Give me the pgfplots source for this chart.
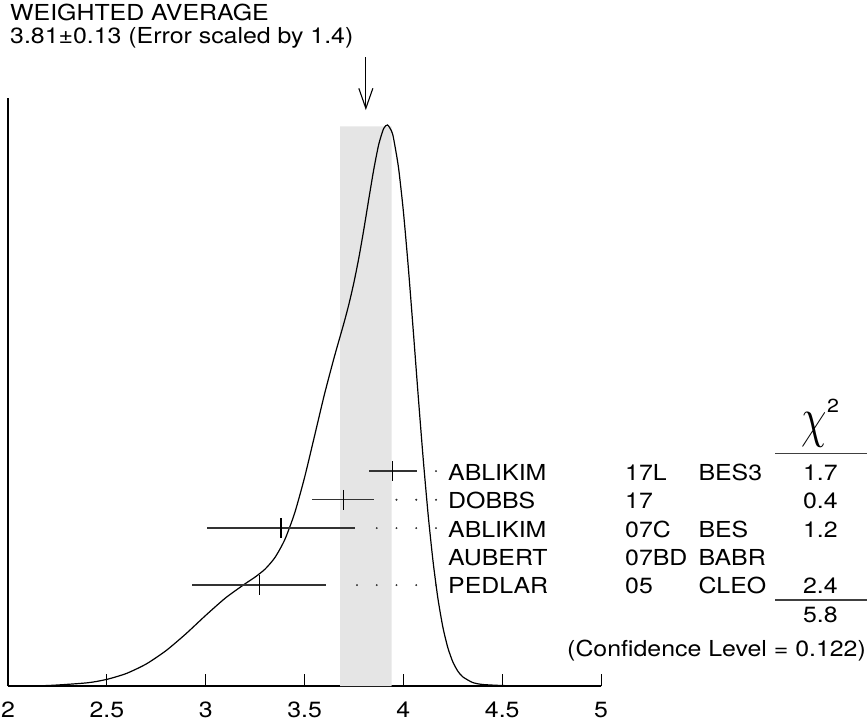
\documentclass[border=0pt]{standalone}
\usepackage{graphicx}
\usepackage{fontspec}
\setmainfont{TeX Gyre Heros}[FakeStretch=1.13]
\usepackage{pgfplots}
\pgfplotsset{compat=1.18}
\usetikzlibrary{arrows.meta}

\begin{document}
\fontsize{22.1}{26}\selectfont
\begin{tikzpicture}[font=\fontsize{22.1}{26}\selectfont]
\begin{axis}[
  scale only axis, width=593bp, height=588bp,
  xmin=2, xmax=5, ymin=0, ymax=1,
  axis x line=bottom, axis y line=left,
  axis line style={line width=1.3bp, -},
  ytick=\empty,
  xtick={2,2.5,3,3.5,4,4.5,5},
  tick align=inside, major tick length=12bp,
  tick style={line width=1.1bp, black},
  xticklabel style={inner sep=0pt, anchor=north, yshift=-16bp},
  /pgf/number format/assume math mode=true,
  clip=false,
]
% weighted average band 3.81 +- 0.13
\addplot[fill=black!10, draw=none] coordinates {(3.68,0) (3.68,0.952) (3.94,0.952) (3.94,0)} \closedcycle;

% ideogram
\addplot[black, line width=1.2bp, smooth, tension=0.4] coordinates {
(2.0,0.0001) (2.2,0.0010) (2.4,0.0056) (2.5,0.0115) (2.6,0.0217) (2.7,0.0378)
(2.8,0.0605) (2.9,0.0890) (3.0,0.1203) (3.1,0.1499) (3.2,0.1742) (3.25,0.1855)
(3.3,0.1989) (3.35,0.2185) (3.4,0.2490) (3.45,0.2943) (3.5,0.3547) (3.55,0.4247)
(3.6,0.4953) (3.65,0.5591) (3.7,0.6184) (3.725,0.6504) (3.75,0.6869) (3.775,0.7290)
(3.8,0.7770) (3.825,0.8284) (3.85,0.8784) (3.875,0.9208) (3.9,0.9481) (3.92,0.9542)
(3.94,0.9437) (3.95,0.9317) (3.975,0.8822) (4.0,0.8068) (4.025,0.7113) (4.05,0.6038)
(4.075,0.4930) (4.1,0.3869) (4.125,0.2919) (4.15,0.2119) (4.175,0.1480) (4.2,0.0997)
(4.225,0.0650) (4.25,0.0412) (4.275,0.0256) (4.3,0.0158) (4.35,0.0062) (4.4,0.0028)
(4.5,0.0010) (4.6,0.0004) (4.8,0.0001) (5.0,0.0000)
};

% measurements
\addplot[only marks, mark=|, mark size=10bp, mark options={line width=1.1bp, black},
  error bars/.cd, x dir=both, x explicit, error mark=none,
  error bar style={line width=1.3bp, black!80}] coordinates {
(3.947,0.3656) +- (0.120,0)
(3.695,0.3169) +- (0.155,0)
(3.381,0.2687) +- (0.372,0)
(3.270,0.1718) +- (0.337,0)
};

% dotted leaders
\addplot[only marks, mark=*, mark size=0.75bp, black!80] coordinates {
(4.165,0.3656)
(3.965,0.3169) (4.065,0.3169) (4.165,0.3169)
(3.865,0.2687) (3.965,0.2687) (4.065,0.2687) (4.165,0.2687)
(3.765,0.1718) (3.865,0.1718) (3.965,0.1718) (4.065,0.1718) (4.165,0.1718)
};

% arrow at the mean
\draw[line width=1.1bp, -{Straight Barb[length=20bp,width=14bp,line width=1.1bp]}]
  (axis cs:3.81,1.0697) -- (axis cs:3.81,0.9796);

\node[anchor=base west, inner sep=0] at (axis cs:2.01,1.1315) {WEIGHTED AVERAGE};
\node[anchor=base west, inner sep=0] at (axis cs:2.01,1.0930) {3.81±0.13 (Error scaled by 1.4)};

% table
\node[anchor=base west, inner sep=0] at (axis cs:4.2256,0.3503) {ABLIKIM};
\node[anchor=base west, inner sep=0] at (axis cs:5.121,0.3503) {17L};
\node[anchor=base west, inner sep=0] at (axis cs:5.4917,0.3503) {BES3};
\node[anchor=base east, inner sep=0] at (axis cs:6.198,0.3503) {1.7};

\node[anchor=base west, inner sep=0] at (axis cs:4.2256,0.3023) {DOBBS};
\node[anchor=base west, inner sep=0] at (axis cs:5.121,0.3023) {17};
\node[anchor=base east, inner sep=0] at (axis cs:6.198,0.3023) {0.4};

\node[anchor=base west, inner sep=0] at (axis cs:4.2256,0.2534) {ABLIKIM};
\node[anchor=base west, inner sep=0] at (axis cs:5.121,0.2534) {07C};
\node[anchor=base west, inner sep=0] at (axis cs:5.4917,0.2534) {BES};
\node[anchor=base east, inner sep=0] at (axis cs:6.198,0.2534) {1.2};

\node[anchor=base west, inner sep=0] at (axis cs:4.2256,0.2049) {AUBERT};
\node[anchor=base west, inner sep=0] at (axis cs:5.121,0.2049) {07BD};
\node[anchor=base west, inner sep=0] at (axis cs:5.4917,0.2049) {BABR};

\node[anchor=base west, inner sep=0] at (axis cs:4.2256,0.1573) {PEDLAR};
\node[anchor=base west, inner sep=0] at (axis cs:5.121,0.1573) {05};
\node[anchor=base west, inner sep=0] at (axis cs:5.4917,0.1573) {CLEO};
\node[anchor=base east, inner sep=0] at (axis cs:6.198,0.1573) {2.4};

\node[anchor=base east, inner sep=0] at (axis cs:6.205,0.425)
  {\scalebox{2.0}[2.7]{$\chi$}\raisebox{24bp}{\fontsize{19}{19}\selectfont 2}};
\draw[line width=1.3bp, black!75] (axis cs:5.88,0.3958) -- (axis cs:6.345,0.3958);
\draw[line width=1.3bp, black!75] (axis cs:5.88,0.1463) -- (axis cs:6.345,0.1463);
\node[anchor=base east, inner sep=0] at (axis cs:6.198,0.1083) {5.8};
\node[anchor=base east, inner sep=0] at (axis cs:6.340,0.051) {(Confidence Level = 0.122)};

\coordinate (bbl) at (axis cs:1.9595,-0.0663);
\coordinate (btr) at (axis cs:6.345,1.1667);
\end{axis}
\pgfresetboundingbox
\path[use as bounding box] (bbl) rectangle (btr);
\end{tikzpicture}
\end{document}
